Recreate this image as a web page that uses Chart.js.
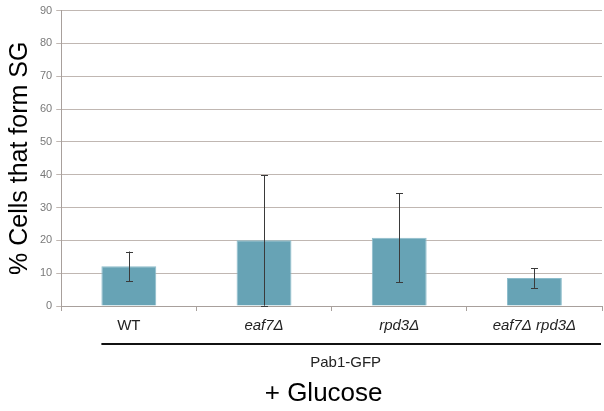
<!DOCTYPE html>
<html><head><meta charset="utf-8">
<script src="https://cdn.jsdelivr.net/npm/chart.js@4"></script>
<style>html,body{margin:0;padding:0;background:#fff}#wrap{width:604px;height:411px}</style>
</head><body><div id="wrap"><canvas id="c" width="604" height="411"></canvas></div>
<script>
const categories = ['WT', 'eaf7Δ', 'rpd3Δ', 'eaf7Δ rpd3Δ'];
const values = [12.1, 20.0, 20.8, 8.5];
const errors = [4.5, 19.9, 13.6, 3.0];
const yTicks = [0, 10, 20, 30, 40, 50, 60, 70, 80, 90];
const groupLabel = 'Pab1-GFP';
const conditionLabel = '+ Glucose';

const errorBars = {
  id: 'errorBars',
  afterDatasetsDraw(chart) {
    const ctx = chart.ctx, y = chart.scales.y;
    const meta = chart.getDatasetMeta(0);
    ctx.save();
    ctx.strokeStyle = '#3a3a3a';
    ctx.lineWidth = 1;
    meta.data.forEach((bar, i) => {
      const x = Math.round(bar.x) + 0.5;
      const top = y.getPixelForValue(values[i] + errors[i]);
      const bot = y.getPixelForValue(values[i] - errors[i]);
      ctx.beginPath();
      ctx.moveTo(x, top); ctx.lineTo(x, bot);
      ctx.moveTo(x - 3.5, Math.round(top) + 0.5); ctx.lineTo(x + 3.5, Math.round(top) + 0.5);
      ctx.moveTo(x - 3.5, Math.round(bot) + 0.5); ctx.lineTo(x + 3.5, Math.round(bot) + 0.5);
      ctx.stroke();
    });
    ctx.restore();
  }
};

const groupDecor = {
  id: 'groupDecor',
  afterDraw(chart) {
    const ctx = chart.ctx, area = chart.chartArea;
    const meta = chart.getDatasetMeta(0);
    const first = meta.data[0];
    const x0 = first.x - first.width / 2;
    const x1 = area.right - 1;
    const yLine = area.bottom + 38;
    ctx.save();
    ctx.strokeStyle = '#111';
    ctx.lineWidth = 2;
    ctx.beginPath(); ctx.moveTo(x0, yLine); ctx.lineTo(x1, yLine); ctx.stroke();
    ctx.fillStyle = '#222';
    ctx.textAlign = 'center';
    ctx.textBaseline = 'middle';
    ctx.font = '15px "Liberation Sans", Arial, sans-serif';
    const mid = (area.left + area.right) / 2;
    ctx.fillText(groupLabel, mid + 14, yLine + 19);
    ctx.fillStyle = '#000';
    ctx.font = '26px "Liberation Sans", Arial, sans-serif';
    ctx.fillText(conditionLabel, mid - 8, yLine + 50);
    ctx.restore();
  }
};

new Chart(document.getElementById('c'), {
  type: 'bar',
  data: {
    labels: categories,
    datasets: [{
      data: values,
      backgroundColor: '#67a3b5',
      borderColor: '#8cbccb',
      borderWidth: 1,
      barPercentage: 0.406,
      categoryPercentage: 1.0
    }]
  },
  options: {
    responsive: false,
    animation: false,
    devicePixelRatio: 1,
    layout: { padding: { top: 9, right: 2, bottom: 70, left: 0 } },
    plugins: { legend: { display: false }, tooltip: { enabled: false } },
    scales: {
      x: {
        grid: { offset: true, drawOnChartArea: false, color: '#a8a09c', tickLength: 5 },
        border: { color: '#a8a09c' },
        ticks: {
          color: '#222',
          padding: 6,
          font: (c) => ({ family: '"Liberation Sans", Arial, sans-serif', size: 15, style: c.index === 0 ? 'normal' : 'italic' })
        }
      },
      y: {
        min: 0, max: 90,
        afterBuildTicks(axis) { axis.ticks = yTicks.map(v => ({ value: v })); },
        grid: { color: '#c0b7b2', tickLength: 5 },
        border: { color: '#a8a09c' },
        ticks: { color: '#7a7a7a', padding: 4, font: { family: '"Liberation Sans", Arial, sans-serif', size: 11 } },
        title: { display: true, text: '% Cells that form SG', color: '#000', padding: { top: 5, bottom: 1 }, font: { family: '"Liberation Sans", Arial, sans-serif', size: 25 } }
      }
    }
  },
  plugins: [errorBars, groupDecor]
});
</script></body></html>
